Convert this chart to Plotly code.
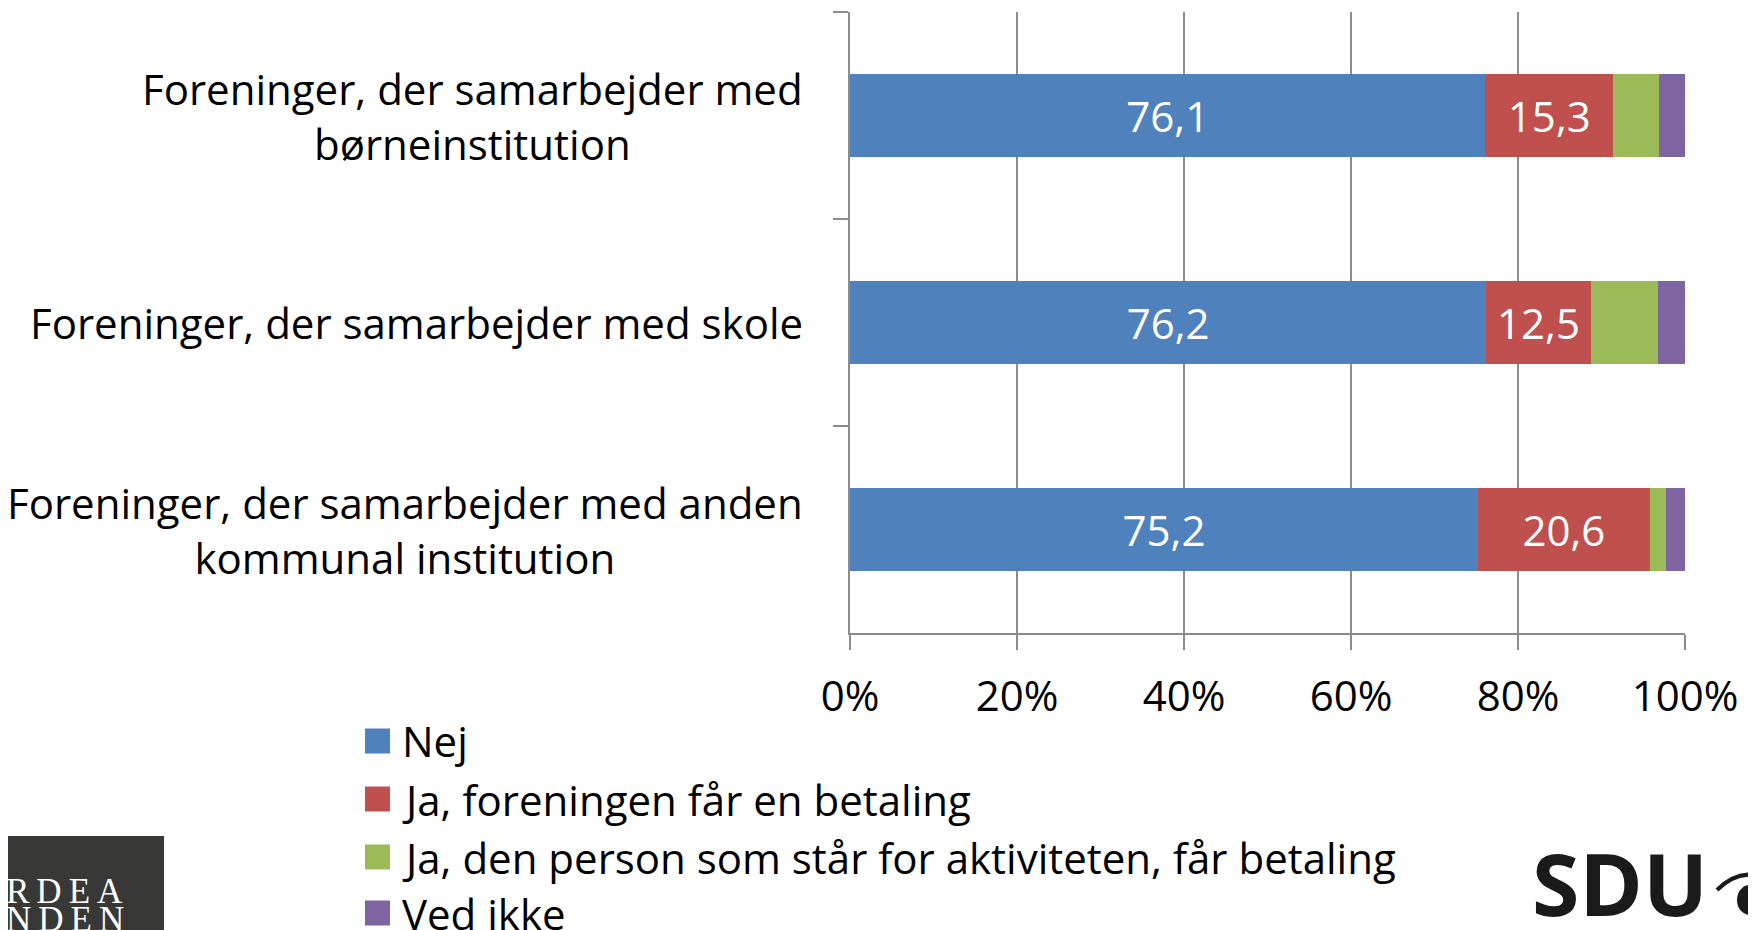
import plotly.graph_objects as go

categories = [
    "Foreninger, der samarbejder med<br>børneinstitution",
    "Foreninger, der samarbejder med skole",
    "Foreninger, der samarbejder med anden<br>kommunal institution",
]
series_names = [
    "Nej",
    "Ja, foreningen får en betaling",
    "Ja, den person som står for aktiviteten, får betaling",
    "Ved ikke",
]
nej = [76.1, 76.2, 75.2]
ja_forening = [15.3, 12.5, 20.6]
ja_person = [5.5, 8.1, 1.9]
ved_ikke = [3.1, 3.2, 2.3]
show_labels = [True, True, False, False]
x_ticks = [0, 20, 40, 60, 80, 100]
x_tick_text = ["0%", "20%", "40%", "60%", "80%", "100%"]

colors = ["#4F81BD", "#C0504D", "#9BBB59", "#8064A2"]
values = [nej, ja_forening, ja_person, ved_ikke]

FONT = "Open Sans"
FS = 42
OFF = 8  # page body margin
W, H = 1756, 930
# plot area in page pixels: x 850..1685, y 12..633
L = 850 - OFF
T = 12 - OFF
R = W - (1685 - OFF)
B = H - (633 - OFF)
PW, PH = W - L - R, H - T - B


def px2x(px):
    return (px - OFF - L) / PW


def py2y(py):
    return (H - B - (py - OFF)) / PH


fig = go.Figure()
for name, vals, col, lab in zip(series_names, values, colors, show_labels):
    fig.add_trace(go.Bar(
        y=categories, x=vals, name=name, orientation="h",
        marker=dict(color=col, line=dict(width=0)),
        texttemplate="%{x:.1f}" if lab else None,
        textposition="inside" if lab else "none",
        insidetextanchor="middle",
        textfont=dict(family=FONT, size=FS, color="white"),
        constraintext="none",
        showlegend=False,
    ))

grid = "#8c8c8c"
fig.update_layout(
    width=W, height=H, barmode="stack", bargap=0.6,
    margin=dict(l=L, r=R, t=T, b=B, pad=0),
    plot_bgcolor="white", paper_bgcolor="white",
    separators=", ",
    font=dict(family=FONT, size=FS, color="black"),
    xaxis=dict(range=[0, 100], tickvals=x_ticks, ticktext=x_tick_text,
               showgrid=True, gridcolor=grid, gridwidth=2,
               showline=True, linecolor=grid, linewidth=2,
               ticks="outside", ticklen=15, tickcolor=grid, tickwidth=2,
               ticklabelstandoff=11,
               tickfont=dict(family=FONT, size=FS, color="black"),
               zeroline=False, fixedrange=True),
    yaxis=dict(type="category", autorange="reversed",
               showgrid=False, showline=True, linecolor=grid, linewidth=2,
               ticks="outside", tickson="boundaries", ticklen=15,
               tickcolor=grid, tickwidth=2, showticklabels=False,
               fixedrange=True),
)

# category labels (centered multi-line, right anchored)
for c in categories:
    fig.add_annotation(x=px2x(805), xref="paper", y=c, yref="y",
                       text=c, showarrow=False, xanchor="right",
                       yanchor="middle", align="center",
                       font=dict(family=FONT, size=FS, color="black"))

# legend (manual, large squares)
leg_y = [741, 799, 857, 913]
for name, col, yy in zip(series_names, colors, leg_y):
    fig.add_shape(type="rect", xref="paper", yref="paper",
                  x0=px2x(365), x1=px2x(390), y0=py2y(yy + 12.5), y1=py2y(yy - 12.5),
                  fillcolor=col, line=dict(width=0))
    fig.add_annotation(x=px2x(400), xref="paper", y=py2y(yy), yref="paper",
                       text=name, showarrow=False, xanchor="left",
                       yanchor="middle",
                       font=dict(family=FONT, size=FS, color="black"))

# Nordea-fonden logo fragment
fig.add_shape(type="rect", xref="paper", yref="paper",
              x0=px2x(-10), x1=px2x(164), y0=py2y(945), y1=py2y(836),
              fillcolor="#383836", line=dict(width=0), layer="above")
ts = "\u2009"
for txt, top in [("RDEA", 870), ("NDEN", 898)]:
    fig.add_annotation(x=px2x(4), xref="paper", y=py2y(top), yref="paper",
                       text=ts.join(txt), showarrow=False, xanchor="left",
                       yanchor="top", align="left",
                       font=dict(family="Liberation Serif", size=35, color="white"))

# SDU logo fragment
fig.add_annotation(x=px2x(1530), xref="paper", y=py2y(882), yref="paper",
                   text="<b>SDU</b>", showarrow=False, xanchor="left",
                   yanchor="middle",
                   font=dict(family="Open Sans", size=86, color="#1a1a1a"))
fig.add_shape(type="circle", xref="paper", yref="paper",
              x0=px2x(1737), x1=px2x(1762), y0=py2y(915), y1=py2y(885),
              fillcolor="#1a1a1a", line=dict(width=0))
fig.add_shape(type="path", xref="paper", yref="paper",
              path=f"M {px2x(1717)},{py2y(890)} Q {px2x(1735)},{py2y(872)} {px2x(1756)},{py2y(875)}",
              line=dict(color="#1a1a1a", width=4))

fig.write_html("out.html")
